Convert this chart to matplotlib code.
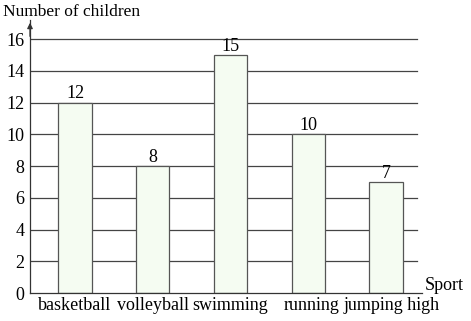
import matplotlib.pyplot as plt
import matplotlib.transforms as mtransforms

sports = ['basketball', 'volleyball', 'swimming', 'running', 'jumping high']
children = [12, 8, 15, 10, 7]
yticks = [0, 2, 4, 6, 8, 10, 12, 14, 16]

plt.rcParams['font.family'] = ['Liberation Serif', 'DejaVu Serif']

fig = plt.figure(figsize=(4.71, 3.21), dpi=100)
ax = fig.add_axes([30/471, 28/321, (422-30)/471, (293-20)/321])

x = range(len(sports))
ax.set_xlim(-0.579, 4.463)
ax.set_ylim(0, 17.2)

# horizontal lines behind the bars
for y in yticks[1:]:
    ax.plot([-0.579, 4.40], [y, y], color='#444444', lw=0.9, zorder=1)

bars = ax.bar(x, children, width=0.43, color='#f5fcf2', edgecolor='#555555',
              linewidth=0.9, zorder=2)
for xi, v in zip(x, children):
    ax.text(xi, v + 0.02, str(v), ha='center', va='bottom', fontsize=13)

for s in ['top', 'right']:
    ax.spines[s].set_visible(False)
ax.spines['left'].set_color('#333333')
ax.spines['bottom'].set_color('#333333')
ax.spines['left'].set_linewidth(0.9)
ax.spines['bottom'].set_linewidth(0.9)

# arrow at top of y axis
ax.annotate('', xy=(0, 1.0), xytext=(0, 0.93), xycoords='axes fraction',
            arrowprops=dict(arrowstyle='-|>', color='#333333', lw=0.9,
                            mutation_scale=8))

ax.set_yticks(yticks)
ax.set_yticklabels([str(t) for t in yticks], fontsize=13)
ax.set_xticks(list(x))
ax.set_xticklabels(sports, fontsize=13)
ax.tick_params(axis='y', length=0, pad=4)
ax.tick_params(axis='x', length=0, pad=3)

# nudge the last labels a bit to the right like the original
shifts = [0, 0, 0, 3, 6]
for lab, dx in zip(ax.get_xticklabels(), shifts):
    if dx:
        lab.set_transform(lab.get_transform() +
                          mtransforms.ScaledTranslation(dx/100, 0, fig.dpi_scale_trans))

fig.text(3/471, 1 - 12/321, 'Number of children', fontsize=12.5, va='center', ha='left')
fig.text(425/471, 1 - 286/321, 'Sport', fontsize=13, va='center', ha='left')

fig.savefig('out.png', dpi=100)
